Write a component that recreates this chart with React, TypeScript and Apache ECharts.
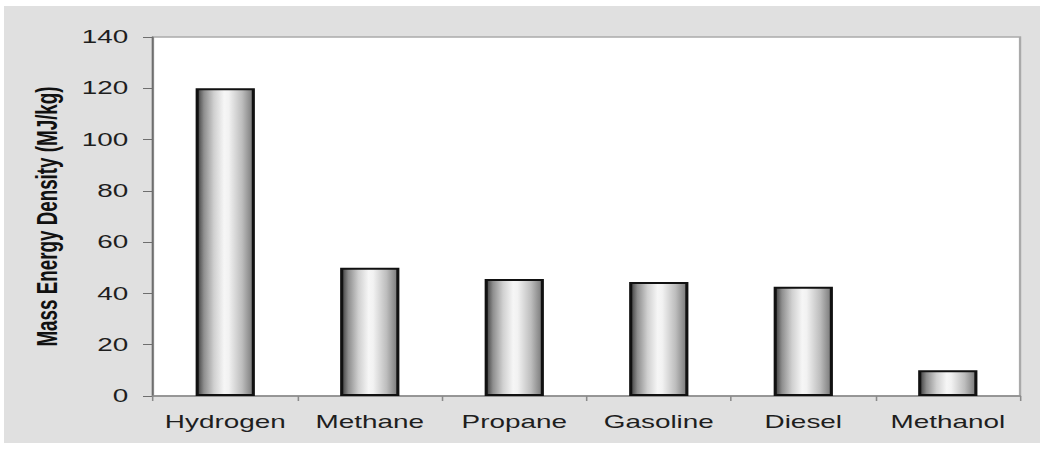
import React, { useEffect, useRef } from "react";
import * as echarts from "echarts";

const categories = ["Hydrogen", "Methane", "Propane", "Gasoline", "Diesel", "Methanol"];
const massEnergyDensity = [120, 50, 45.6, 44.5, 42.6, 10];
const yAxisTitle = "Mass Energy Density (MJ/kg)";
const yMin = 0;
const yMax = 140;
const yStep = 20;

// the reference image is horizontally stretched; reproduce it
const S = 1.55;
const W = 1040;
const H = 453;

export default function App() {
  const ref = useRef<HTMLDivElement>(null);

  useEffect(() => {
    if (!ref.current) return;
    const chart = echarts.init(ref.current, null, { renderer: "svg" });
    const font = '"Liberation Sans", Arial, Helvetica, sans-serif';
    chart.setOption({
      animation: false,
      backgroundColor: "transparent",
      grid: {
        left: 153 / S,
        right: 20 / S,
        top: 37,
        bottom: H - 396,
        show: true,
        backgroundColor: "#ffffff",
        borderColor: "#aaaaaa",
        borderWidth: 1.5,
      },
      xAxis: {
        type: "category",
        data: categories,
        boundaryGap: true,
        axisLine: { lineStyle: { color: "#8a8a8a", width: 1.5 } },
        axisTick: { show: true, length: 5, lineStyle: { color: "#8a8a8a", width: 1 } },
        axisLabel: {
          margin: 17,
          fontFamily: font,
          fontSize: 18,
          color: "#1e1e1e",
          interval: 0,
        },
        splitLine: { show: false },
      },
      yAxis: {
        type: "value",
        min: yMin,
        max: yMax,
        interval: yStep,
        name: yAxisTitle,
        nameLocation: "middle",
        nameGap: 59,
        nameRotate: 90,
        nameTextStyle: {
          fontFamily: font,
          fontSize: 18.8,
          fontWeight: "bold",
          color: "#111111",
        },
        axisLine: { show: true, lineStyle: { color: "#6e6e6e", width: 1.2 } },
        axisTick: { show: true, length: 10 / S, lineStyle: { color: "#6e6e6e", width: 1 } },
        axisLabel: {
          margin: 16,
          fontFamily: font,
          fontSize: 18,
          color: "#1e1e1e",
        },
        splitLine: { show: false },
      },
      series: [
        {
          type: "bar",
          data: massEnergyDensity,
          barWidth: "41%",
          itemStyle: {
            borderColor: "#111111",
            borderWidth: 2,
            color: new echarts.graphic.LinearGradient(0, 0, 1, 0, [
              { offset: 0, color: "#3c3c3c" },
              { offset: 0.12, color: "#8e8e8e" },
              { offset: 0.3, color: "#d0d0d0" },
              { offset: 0.48, color: "#f6f6f6" },
              { offset: 0.56, color: "#f2f2f2" },
              { offset: 0.8, color: "#bdbdbd" },
              { offset: 1, color: "#777777" },
            ]),
          },
        },
      ],
    });
    return () => chart.dispose();
  }, []);

  return (
    <div
      style={{
        position: "fixed",
        left: 0,
        top: 0,
        width: W,
        height: H,
        background: "#ffffff",
        overflow: "hidden",
      }}
    >
      <div
        style={{
          position: "absolute",
          left: 4,
          top: 6,
          width: W - 4,
          height: 437,
          background: "#e0e0e0",
        }}
      />
      <div
        ref={ref}
        style={{
          position: "absolute",
          left: 0,
          top: 0,
          width: W / S,
          height: H,
          transform: `scaleX(${S})`,
          transformOrigin: "0 0",
        }}
      />
    </div>
  );
}
